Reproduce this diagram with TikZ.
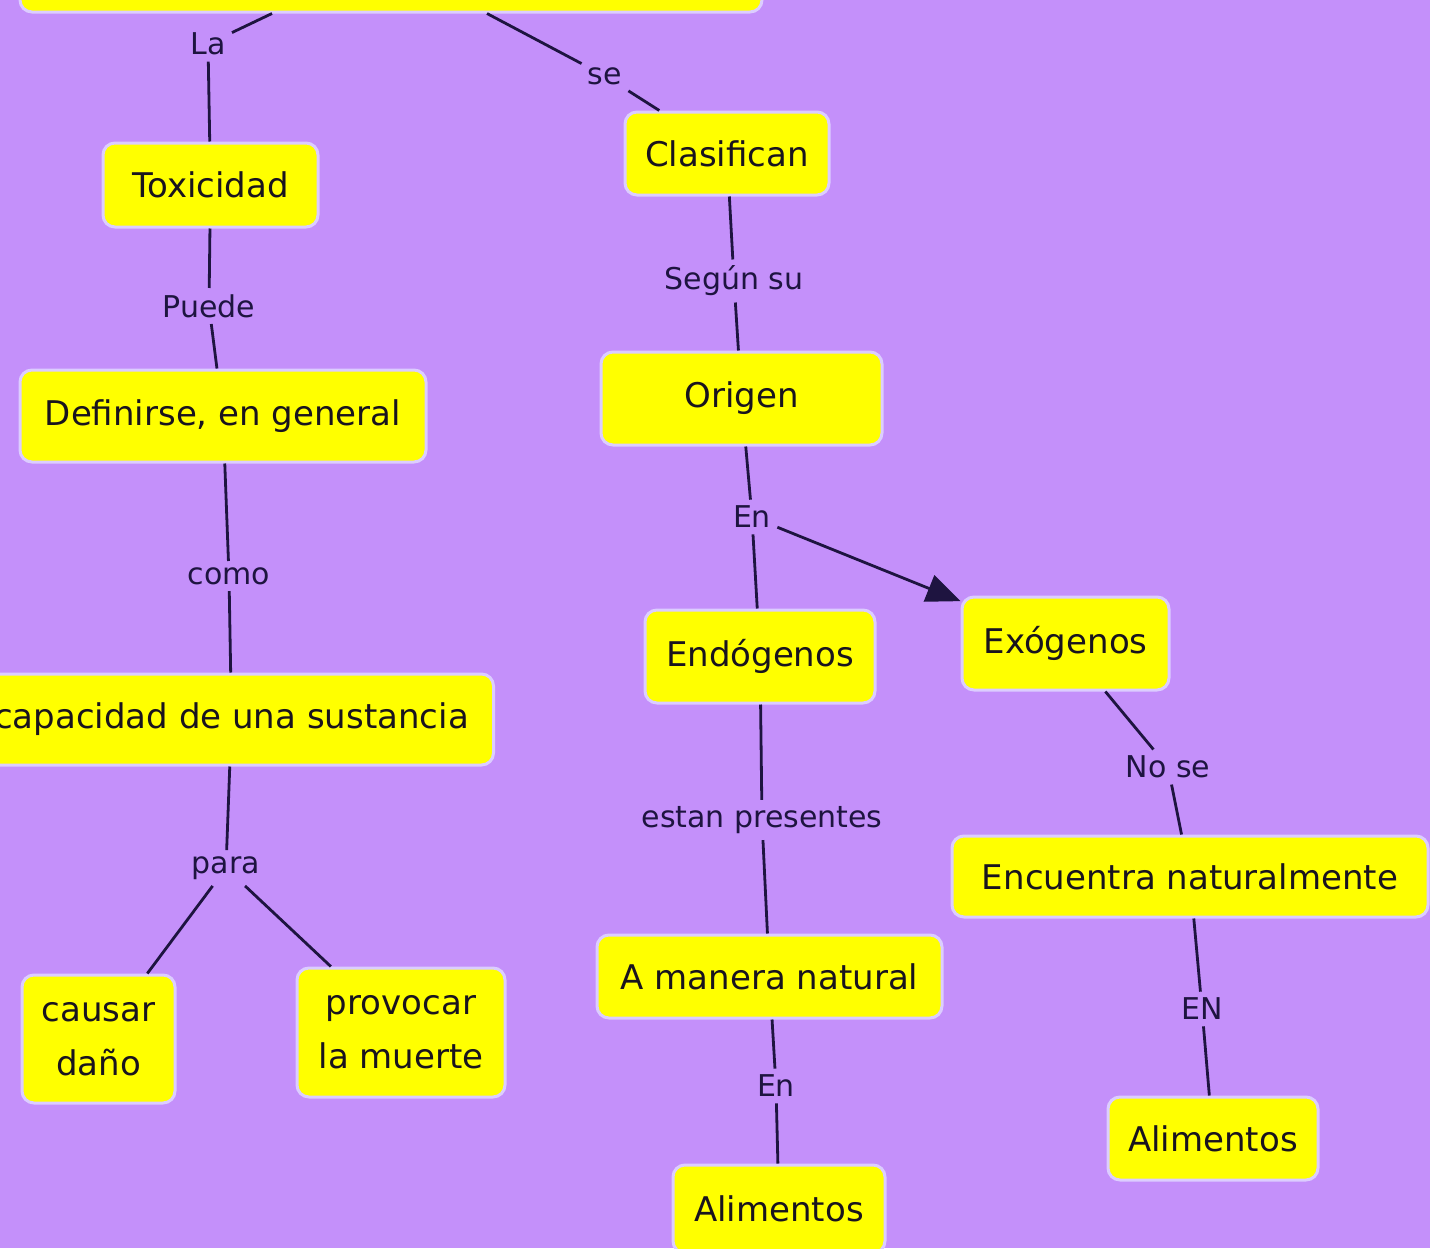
\documentclass[tikz,border=0pt]{standalone}
\usepackage{fontspec}
\setmainfont{DejaVu Sans}
\usetikzlibrary{arrows.meta}
\definecolor{bgpurple}{RGB}{196,144,250}
\definecolor{boxyellow}{RGB}{255,255,0}
\definecolor{glow}{RGB}{220,205,255}
\definecolor{linkcol}{RGB}{30,20,64}
\definecolor{txt}{RGB}{25,20,30}
\tikzset{
  concept/.style={rectangle, rounded corners=6pt, fill=boxyellow, draw=glow, line width=1.5pt,
    text=txt, font=\fontsize{17}{27}\selectfont, align=center, inner sep=0pt},
  lbl/.style={text=linkcol, font=\fontsize{15}{18}\selectfont, inner sep=3pt},
  conn/.style={draw=linkcol, line width=1.4pt},
}
\begin{document}
\begin{tikzpicture}[x=0.5pt,y=-0.5pt]
\fill[bgpurple] (0,0) rectangle (1430,1248);
\useasboundingbox (0,0) rectangle (1430,1248);
% concepts
\node[concept, minimum width=371pt, minimum height=42pt] (top) at (391,-30) {};
\node[concept, minimum width=107.5pt, minimum height=42pt] (tox) at (210.5,185) {Toxicidad};
\node[concept, minimum width=102pt, minimum height=41.5pt] (clas) at (727,153.5) {Clasifican};
\node[concept, minimum width=203pt, minimum height=46pt] (def) at (223,416) {Definirse, en general};
\node[concept, minimum width=262pt, minimum height=45.5pt] (cap) at (231.5,719.5) {capacidad de una sustancia};
\node[concept, minimum width=76.5pt, minimum height=64pt] (dano) at (98.5,1039) {causar\\daño};
\node[concept, minimum width=104pt, minimum height=64.5pt] (muer) at (401,1032.5) {provocar\\la muerte};
\node[concept, minimum width=140.5pt, minimum height=46.5pt] (orig) at (741.5,398.5) {Origen};
\node[concept, minimum width=115pt, minimum height=46.5pt] (endo) at (760,656.5) {Endógenos};
\node[concept, minimum width=103.5pt, minimum height=46.5pt] (exo) at (1065.5,643.5) {Exógenos};
\node[concept, minimum width=172.5pt, minimum height=41.5pt] (man) at (769.5,976.5) {A manera natural};
\node[concept, minimum width=106pt, minimum height=44pt] (alim1) at (779,1209) {Alimentos};
\node[concept, minimum width=238pt, minimum height=40.5pt] (enc) at (1190,876.5) {Encuentra naturalmente};
\node[concept, minimum width=105pt, minimum height=41.5pt] (alim2) at (1213,1138.5) {Alimentos};
% labels
\node[lbl] (la) at (208,44) {La};
\node[lbl] (se) at (605,76) {se};
\node[lbl] (puede) at (209,306) {Puede};
\node[lbl] (como) at (229,576) {como};
\node[lbl] (para) at (226,868) {para};
\node[lbl] (segun) at (734,281) {Según su};
\node[lbl] (en1) at (752,517) {En};
\node[lbl] (estan) at (762,820) {estan presentes};
\node[lbl] (en2) at (776,1086) {En};
\node[lbl] (nose) at (1168,767) {No se};
\node[lbl] (EN) at (1202,1009) {EN};
% connectors
\draw[conn] ([xshift=-59.5pt]top.south) -- (la);
\draw[conn] (la) -- (tox);
\draw[conn] ([xshift=48pt]top.south) -- (se);
\draw[conn] (se) -- (clas);
\draw[conn] (tox) -- (puede);
\draw[conn] (puede) -- (def);
\draw[conn] (def) -- (como);
\draw[conn] (como) -- (cap);
\draw[conn] (cap) -- (para);
\draw[conn] (para) -- (dano);
\draw[conn] (para) -- (muer);
\draw[conn] (clas) -- (segun);
\draw[conn] (segun) -- (orig);
\draw[conn] (orig) -- (en1);
\draw[conn] (en1) -- (endo);
\draw[conn, -{Triangle[length=17pt,width=14pt]}] (en1) -- (exo);
\draw[conn] (endo) -- (estan);
\draw[conn] (estan) -- (man);
\draw[conn] (man) -- (en2);
\draw[conn] (en2) -- (alim1);
\draw[conn] (exo) -- (nose);
\draw[conn] (nose) -- (enc);
\draw[conn] (enc) -- (EN);
\draw[conn] (EN) -- (alim2);
\end{tikzpicture}
\end{document}
